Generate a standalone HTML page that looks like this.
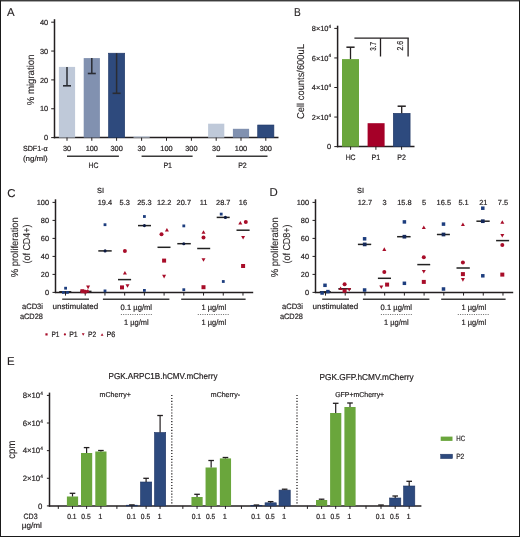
<!DOCTYPE html>
<html><head><meta charset="utf-8"><style>
html,body{margin:0;padding:0;background:#fff;}
#fig{position:absolute;left:0;top:0;width:520px;height:537px;box-sizing:border-box;border:1px solid #1a1a1a;border-top-color:#3c3c3c;background:#fff;box-shadow:inset 0 1px 0 #a8a8a8;overflow:hidden;}
svg{position:absolute;left:-1px;top:-1px;will-change:transform;}
text{font-family:"Liberation Sans", sans-serif;fill:#231f20;text-rendering:geometricPrecision;stroke:#231f20;stroke-width:0.2px;}
text.L{stroke-width:0.12px;}
</style></head><body><div id="fig">
<svg width="520" height="537" viewBox="0 0 520 537" font-family='"Liberation Sans", sans-serif'>
<text x="7.00" y="16.00" font-size="11.4" class="L">A</text>
<line x1="54.50" y1="19.20" x2="54.50" y2="138.30" stroke="#231f20" stroke-width="1.5"/>
<line x1="51.20" y1="137.60" x2="54.50" y2="137.60" stroke="#231f20" stroke-width="1.0"/>
<text x="48.20" y="140.25" font-size="7.4" text-anchor="end">0</text>
<line x1="51.20" y1="108.75" x2="54.50" y2="108.75" stroke="#231f20" stroke-width="1.0"/>
<text x="48.20" y="111.40" font-size="7.4" text-anchor="end">10</text>
<line x1="51.20" y1="79.90" x2="54.50" y2="79.90" stroke="#231f20" stroke-width="1.0"/>
<text x="48.20" y="82.55" font-size="7.4" text-anchor="end">20</text>
<line x1="51.20" y1="51.05" x2="54.50" y2="51.05" stroke="#231f20" stroke-width="1.0"/>
<text x="48.20" y="53.70" font-size="7.4" text-anchor="end">30</text>
<line x1="51.20" y1="22.20" x2="54.50" y2="22.20" stroke="#231f20" stroke-width="1.0"/>
<text x="48.20" y="24.85" font-size="7.4" text-anchor="end">40</text>
<line x1="53.80" y1="137.60" x2="278.50" y2="137.60" stroke="#231f20" stroke-width="1.5"/>
<text x="33.70" y="79.90" font-size="10.0" text-anchor="middle" textLength="50.8" lengthAdjust="spacingAndGlyphs" class="L" transform="rotate(-90 33.70 79.90)">% migration</text>
<rect x="58.90" y="66.90" width="16.20" height="70.70" fill="#bfc9d9"/>
<line x1="67.00" y1="66.90" x2="67.00" y2="85.80" stroke="#2a2c33" stroke-width="1.5"/>
<line x1="63.00" y1="85.80" x2="71.00" y2="85.80" stroke="#2a2c33" stroke-width="1.6"/>
<rect x="83.70" y="58.10" width="16.20" height="79.50" fill="#8191b0"/>
<line x1="91.80" y1="58.10" x2="91.80" y2="73.50" stroke="#2a2c33" stroke-width="1.5"/>
<line x1="87.80" y1="73.50" x2="95.80" y2="73.50" stroke="#2a2c33" stroke-width="1.6"/>
<rect x="108.50" y="53.20" width="16.20" height="84.40" fill="#2e4a7d" stroke="#1f3766" stroke-width="0.6"/>
<line x1="116.60" y1="53.20" x2="116.60" y2="93.30" stroke="#2a2c33" stroke-width="1.5"/>
<line x1="112.60" y1="93.30" x2="120.60" y2="93.30" stroke="#2a2c33" stroke-width="1.6"/>
<rect x="133.50" y="136.30" width="16.20" height="1.30" fill="#c6d0e0"/>
<rect x="208.10" y="123.70" width="16.20" height="13.90" fill="#bfc9d9"/>
<rect x="232.90" y="128.80" width="16.20" height="8.80" fill="#8191b0"/>
<rect x="257.70" y="125.00" width="16.20" height="12.60" fill="#2e4a7d" stroke="#1f3766" stroke-width="0.6"/>
<line x1="67.00" y1="137.60" x2="67.00" y2="140.80" stroke="#231f20" stroke-width="1.0"/>
<text x="67.00" y="150.90" font-size="7.4" text-anchor="middle">30</text>
<line x1="91.80" y1="137.60" x2="91.80" y2="140.80" stroke="#231f20" stroke-width="1.0"/>
<text x="91.80" y="150.90" font-size="7.4" text-anchor="middle">100</text>
<line x1="116.60" y1="137.60" x2="116.60" y2="140.80" stroke="#231f20" stroke-width="1.0"/>
<text x="116.60" y="150.90" font-size="7.4" text-anchor="middle">300</text>
<line x1="141.60" y1="137.60" x2="141.60" y2="140.80" stroke="#231f20" stroke-width="1.0"/>
<text x="141.60" y="150.90" font-size="7.4" text-anchor="middle">30</text>
<line x1="166.50" y1="137.60" x2="166.50" y2="140.80" stroke="#231f20" stroke-width="1.0"/>
<text x="166.50" y="150.90" font-size="7.4" text-anchor="middle">100</text>
<line x1="191.40" y1="137.60" x2="191.40" y2="140.80" stroke="#231f20" stroke-width="1.0"/>
<text x="191.40" y="150.90" font-size="7.4" text-anchor="middle">300</text>
<line x1="216.20" y1="137.60" x2="216.20" y2="140.80" stroke="#231f20" stroke-width="1.0"/>
<text x="216.20" y="150.90" font-size="7.4" text-anchor="middle">30</text>
<line x1="241.00" y1="137.60" x2="241.00" y2="140.80" stroke="#231f20" stroke-width="1.0"/>
<text x="241.00" y="150.90" font-size="7.4" text-anchor="middle">100</text>
<line x1="265.80" y1="137.60" x2="265.80" y2="140.80" stroke="#231f20" stroke-width="1.0"/>
<text x="265.80" y="150.90" font-size="7.4" text-anchor="middle">300</text>
<text x="47.70" y="150.90" font-size="7.4" text-anchor="end" textLength="24.8" lengthAdjust="spacingAndGlyphs">SDF1-α</text>
<text x="47.70" y="160.80" font-size="7.4" text-anchor="end" textLength="24.8" lengthAdjust="spacingAndGlyphs">(ng/ml)</text>
<line x1="67.00" y1="156.30" x2="118.90" y2="156.30" stroke="#3a3a3a" stroke-width="1.4"/>
<text x="93.55" y="167.90" font-size="7.8" text-anchor="middle" textLength="9.9" lengthAdjust="spacingAndGlyphs">HC</text>
<line x1="141.60" y1="156.30" x2="192.60" y2="156.30" stroke="#3a3a3a" stroke-width="1.4"/>
<text x="167.70" y="167.90" font-size="7.8" text-anchor="middle" textLength="8.6" lengthAdjust="spacingAndGlyphs">P1</text>
<line x1="216.20" y1="156.30" x2="267.50" y2="156.30" stroke="#3a3a3a" stroke-width="1.4"/>
<text x="242.45" y="167.90" font-size="7.8" text-anchor="middle" textLength="8.6" lengthAdjust="spacingAndGlyphs">P2</text>
<text x="294.00" y="16.00" font-size="11.4" textLength="6.8" lengthAdjust="spacingAndGlyphs" class="L">B</text>
<line x1="337.60" y1="25.70" x2="337.60" y2="147.30" stroke="#231f20" stroke-width="1.5"/>
<line x1="334.30" y1="146.60" x2="337.60" y2="146.60" stroke="#231f20" stroke-width="1.0"/>
<text x="331.00" y="149.25" font-size="7.4" text-anchor="end">0</text>
<line x1="334.30" y1="117.05" x2="337.60" y2="117.05" stroke="#231f20" stroke-width="1.0"/>
<text x="331.00" y="119.70" font-size="7.4" text-anchor="end">2×10<tspan font-size="4.59" dy="-3.11">4</tspan></text>
<line x1="334.30" y1="87.50" x2="337.60" y2="87.50" stroke="#231f20" stroke-width="1.0"/>
<text x="331.00" y="90.15" font-size="7.4" text-anchor="end">4×10<tspan font-size="4.59" dy="-3.11">4</tspan></text>
<line x1="334.30" y1="57.95" x2="337.60" y2="57.95" stroke="#231f20" stroke-width="1.0"/>
<text x="331.00" y="60.60" font-size="7.4" text-anchor="end">6×10<tspan font-size="4.59" dy="-3.11">4</tspan></text>
<line x1="334.30" y1="28.40" x2="337.60" y2="28.40" stroke="#231f20" stroke-width="1.0"/>
<text x="331.00" y="31.05" font-size="7.4" text-anchor="end">8×10<tspan font-size="4.59" dy="-3.11">4</tspan></text>
<line x1="336.90" y1="146.60" x2="414.50" y2="146.60" stroke="#231f20" stroke-width="1.5"/>
<text x="304.00" y="81.50" font-size="10.0" text-anchor="middle" textLength="74.8" lengthAdjust="spacingAndGlyphs" class="L" transform="rotate(-90 304.00 81.50)">Cell counts/600uL</text>
<rect x="342.00" y="59.10" width="17.00" height="87.50" fill="#6aa63c"/>
<line x1="350.50" y1="59.10" x2="350.50" y2="47.20" stroke="#231f20" stroke-width="1.3"/>
<line x1="346.40" y1="47.20" x2="354.60" y2="47.20" stroke="#231f20" stroke-width="1.5"/>
<rect x="367.60" y="123.20" width="17.00" height="23.40" fill="#a50028"/>
<rect x="393.30" y="113.30" width="16.80" height="33.30" fill="#2d4a7e" stroke="#1f3563" stroke-width="0.6"/>
<line x1="401.70" y1="113.30" x2="401.70" y2="106.20" stroke="#231f20" stroke-width="1.3"/>
<line x1="397.60" y1="106.20" x2="405.80" y2="106.20" stroke="#231f20" stroke-width="1.5"/>
<line x1="350.60" y1="146.60" x2="350.60" y2="149.80" stroke="#231f20" stroke-width="1.0"/>
<text x="350.60" y="160.00" font-size="7.8" text-anchor="middle" textLength="9.9" lengthAdjust="spacingAndGlyphs">HC</text>
<line x1="375.90" y1="146.60" x2="375.90" y2="149.80" stroke="#231f20" stroke-width="1.0"/>
<text x="375.90" y="160.00" font-size="7.8" text-anchor="middle" textLength="8.6" lengthAdjust="spacingAndGlyphs">P1</text>
<line x1="401.60" y1="146.60" x2="401.60" y2="149.80" stroke="#231f20" stroke-width="1.0"/>
<text x="401.60" y="160.00" font-size="7.8" text-anchor="middle" textLength="8.6" lengthAdjust="spacingAndGlyphs">P2</text>
<line x1="354.40" y1="38.20" x2="408.80" y2="38.20" stroke="#231f20" stroke-width="1.3"/>
<line x1="380.50" y1="38.20" x2="380.50" y2="56.50" stroke="#231f20" stroke-width="1.3"/>
<line x1="408.10" y1="38.20" x2="408.10" y2="56.50" stroke="#231f20" stroke-width="1.3"/>
<text x="376.20" y="46.30" font-size="8.6" text-anchor="middle" textLength="8.7" lengthAdjust="spacingAndGlyphs" transform="rotate(-90 376.20 46.30)">3.7</text>
<text x="403.40" y="45.80" font-size="8.6" text-anchor="middle" textLength="9.6" lengthAdjust="spacingAndGlyphs" transform="rotate(-90 403.40 45.80)">2.6</text>
<text x="7.20" y="196.50" font-size="11.4" class="L">C</text>
<line x1="55.50" y1="199.30" x2="55.50" y2="293.10" stroke="#231f20" stroke-width="1.5"/>
<line x1="52.50" y1="292.40" x2="55.50" y2="292.40" stroke="#231f20" stroke-width="1.0"/>
<text x="49.00" y="295.05" font-size="7.4" text-anchor="end">0</text>
<line x1="52.50" y1="274.40" x2="55.50" y2="274.40" stroke="#231f20" stroke-width="1.0"/>
<text x="49.00" y="277.05" font-size="7.4" text-anchor="end">20</text>
<line x1="52.50" y1="256.40" x2="55.50" y2="256.40" stroke="#231f20" stroke-width="1.0"/>
<text x="49.00" y="259.05" font-size="7.4" text-anchor="end">40</text>
<line x1="52.50" y1="238.40" x2="55.50" y2="238.40" stroke="#231f20" stroke-width="1.0"/>
<text x="49.00" y="241.05" font-size="7.4" text-anchor="end">60</text>
<line x1="52.50" y1="220.40" x2="55.50" y2="220.40" stroke="#231f20" stroke-width="1.0"/>
<text x="49.00" y="223.05" font-size="7.4" text-anchor="end">80</text>
<line x1="52.50" y1="202.40" x2="55.50" y2="202.40" stroke="#231f20" stroke-width="1.0"/>
<text x="49.00" y="205.05" font-size="7.4" text-anchor="end">100</text>
<line x1="54.80" y1="292.40" x2="253.20" y2="292.40" stroke="#231f20" stroke-width="1.5"/>
<line x1="65.50" y1="292.40" x2="65.50" y2="295.60" stroke="#231f20" stroke-width="1.0"/>
<line x1="85.22" y1="292.40" x2="85.22" y2="295.60" stroke="#231f20" stroke-width="1.0"/>
<line x1="104.94" y1="292.40" x2="104.94" y2="295.60" stroke="#231f20" stroke-width="1.0"/>
<line x1="124.66" y1="292.40" x2="124.66" y2="295.60" stroke="#231f20" stroke-width="1.0"/>
<line x1="144.38" y1="292.40" x2="144.38" y2="295.60" stroke="#231f20" stroke-width="1.0"/>
<line x1="164.10" y1="292.40" x2="164.10" y2="295.60" stroke="#231f20" stroke-width="1.0"/>
<line x1="183.82" y1="292.40" x2="183.82" y2="295.60" stroke="#231f20" stroke-width="1.0"/>
<line x1="203.54" y1="292.40" x2="203.54" y2="295.60" stroke="#231f20" stroke-width="1.0"/>
<line x1="223.26" y1="292.40" x2="223.26" y2="295.60" stroke="#231f20" stroke-width="1.0"/>
<line x1="242.98" y1="292.40" x2="242.98" y2="295.60" stroke="#231f20" stroke-width="1.0"/>
<text x="18.40" y="247.20" font-size="10.0" text-anchor="middle" textLength="60.0" lengthAdjust="spacingAndGlyphs" class="L" transform="rotate(-90 18.40 247.20)">% proliferation</text>
<text x="30.20" y="244.00" font-size="10.0" text-anchor="middle" textLength="39.1" lengthAdjust="spacingAndGlyphs" class="L" transform="rotate(-90 30.20 244.00)">(of CD4+)</text>
<text x="100.60" y="193.30" font-size="7.4" text-anchor="middle">SI</text>
<text x="104.94" y="204.50" font-size="7.4" text-anchor="middle">19.4</text>
<text x="124.66" y="204.50" font-size="7.4" text-anchor="middle">5.3</text>
<text x="144.38" y="204.50" font-size="7.4" text-anchor="middle">25.3</text>
<text x="164.10" y="204.50" font-size="7.4" text-anchor="middle">12.2</text>
<text x="183.82" y="204.50" font-size="7.4" text-anchor="middle">20.7</text>
<text x="203.54" y="204.50" font-size="7.4" text-anchor="middle">11</text>
<text x="223.26" y="204.50" font-size="7.4" text-anchor="middle">28.7</text>
<text x="242.98" y="204.50" font-size="7.4" text-anchor="middle">16</text>
<text x="43.00" y="309.40" font-size="7.8" text-anchor="end" textLength="21.0" lengthAdjust="spacingAndGlyphs">aCD3i</text>
<text x="43.00" y="318.80" font-size="7.8" text-anchor="end" textLength="23.1" lengthAdjust="spacingAndGlyphs">aCD28</text>
<text x="52.60" y="309.40" font-size="7.8" textLength="45.6" lengthAdjust="spacingAndGlyphs">unstimulated</text>
<text x="136.30" y="309.60" font-size="7.8" text-anchor="middle" textLength="31.5" lengthAdjust="spacingAndGlyphs">0.1 µg/ml</text>
<text x="136.30" y="325.00" font-size="7.8" text-anchor="middle" textLength="24.5" lengthAdjust="spacingAndGlyphs">1 µg/ml</text>
<text x="213.80" y="309.60" font-size="7.8" text-anchor="middle" textLength="24.5" lengthAdjust="spacingAndGlyphs">1 µg/ml</text>
<text x="213.80" y="325.00" font-size="7.8" text-anchor="middle" textLength="24.5" lengthAdjust="spacingAndGlyphs">1 µg/ml</text>
<line x1="120.90" y1="314.50" x2="152.00" y2="314.50" stroke="#6a6a6a" stroke-width="1.0" stroke-dasharray="1 1.3"/>
<line x1="197.80" y1="314.50" x2="229.20" y2="314.50" stroke="#6a6a6a" stroke-width="1.0" stroke-dasharray="1 1.3"/>
<line x1="62.20" y1="299.20" x2="89.00" y2="299.20" stroke="#3a3a3a" stroke-width="1.4"/>
<line x1="102.90" y1="299.20" x2="169.40" y2="299.20" stroke="#3a3a3a" stroke-width="1.4"/>
<line x1="181.20" y1="299.20" x2="245.60" y2="299.20" stroke="#3a3a3a" stroke-width="1.4"/>
<line x1="59.20" y1="291.80" x2="71.30" y2="291.80" stroke="#222" stroke-width="1.5"/>
<line x1="80.20" y1="291.40" x2="91.50" y2="291.40" stroke="#222" stroke-width="1.5"/>
<line x1="98.30" y1="250.90" x2="111.70" y2="250.90" stroke="#222" stroke-width="1.5"/>
<line x1="118.00" y1="279.60" x2="131.10" y2="279.60" stroke="#222" stroke-width="1.5"/>
<line x1="138.00" y1="225.60" x2="151.00" y2="225.60" stroke="#222" stroke-width="1.5"/>
<line x1="157.50" y1="247.30" x2="170.50" y2="247.30" stroke="#222" stroke-width="1.5"/>
<line x1="177.30" y1="243.70" x2="190.80" y2="243.70" stroke="#222" stroke-width="1.5"/>
<line x1="197.20" y1="248.50" x2="210.20" y2="248.50" stroke="#222" stroke-width="1.5"/>
<line x1="216.70" y1="217.40" x2="229.70" y2="217.40" stroke="#222" stroke-width="1.5"/>
<line x1="236.50" y1="230.20" x2="249.60" y2="230.20" stroke="#222" stroke-width="1.5"/>
<rect x="64.20" y="286.80" width="2.80" height="2.80" fill="#1d3d7e"/>
<rect x="62.00" y="291.00" width="2.80" height="2.80" fill="#1d3d7e"/>
<rect x="66.00" y="291.00" width="2.80" height="2.80" fill="#1d3d7e"/>
<polygon points="88.10,289.20 90.10,285.60 86.10,285.60" fill="#a80d29"/>
<rect x="80.40" y="289.20" width="4.00" height="4.00" fill="#a80d29"/>
<circle cx="85.30" cy="291.80" r="2.00" fill="#a80d29"/>
<polygon points="87.80,289.00 89.80,292.60 85.80,292.60" fill="#a80d29"/>
<rect x="103.60" y="223.30" width="2.80" height="2.80" fill="#1d3d7e"/>
<circle cx="105.10" cy="250.90" r="1.55" fill="#0c1a42"/>
<rect x="103.60" y="289.50" width="2.80" height="2.80" fill="#1d3d7e"/>
<circle cx="124.90" cy="250.90" r="2.00" fill="#a80d29"/>
<polygon points="124.90,271.00 126.90,274.60 122.90,274.60" fill="#a80d29"/>
<rect x="120.00" y="285.40" width="4.00" height="4.00" fill="#a80d29"/>
<polygon points="127.50,287.80 129.50,284.20 125.50,284.20" fill="#a80d29"/>
<rect x="143.00" y="215.10" width="2.80" height="2.80" fill="#1d3d7e"/>
<circle cx="144.40" cy="225.60" r="1.55" fill="#0c1a42"/>
<rect x="143.00" y="289.00" width="2.80" height="2.80" fill="#1d3d7e"/>
<polygon points="166.90,228.00 168.90,231.60 164.90,231.60" fill="#a80d29"/>
<circle cx="161.50" cy="234.20" r="2.00" fill="#a80d29"/>
<rect x="162.10" y="258.60" width="4.00" height="4.00" fill="#a80d29"/>
<polygon points="164.10,278.40 166.10,274.80 162.10,274.80" fill="#a80d29"/>
<rect x="182.40" y="224.50" width="2.80" height="2.80" fill="#1d3d7e"/>
<circle cx="183.80" cy="243.70" r="1.55" fill="#0c1a42"/>
<rect x="182.40" y="288.30" width="2.80" height="2.80" fill="#1d3d7e"/>
<polygon points="203.50,230.20 205.50,233.80 201.50,233.80" fill="#a80d29"/>
<circle cx="203.50" cy="237.50" r="2.00" fill="#a80d29"/>
<polygon points="203.50,261.80 205.50,258.20 201.50,258.20" fill="#a80d29"/>
<rect x="201.50" y="285.20" width="4.00" height="4.00" fill="#a80d29"/>
<rect x="219.80" y="212.70" width="2.80" height="2.80" fill="#1d3d7e"/>
<circle cx="225.40" cy="217.40" r="1.55" fill="#0c1a42"/>
<rect x="221.90" y="280.10" width="2.80" height="2.80" fill="#1d3d7e"/>
<polygon points="240.30,221.00 242.30,224.60 238.30,224.60" fill="#a80d29"/>
<circle cx="245.80" cy="222.00" r="2.00" fill="#a80d29"/>
<polygon points="243.10,239.50 245.10,235.90 241.10,235.90" fill="#a80d29"/>
<rect x="241.10" y="264.00" width="4.00" height="4.00" fill="#a80d29"/>
<rect x="45.40" y="333.30" width="2.20" height="2.20" fill="#a80d29"/>
<text x="51.50" y="337.10" font-size="7.8" textLength="8.0" lengthAdjust="spacingAndGlyphs">P1</text>
<circle cx="64.90" cy="334.40" r="1.10" fill="#a80d29"/>
<text x="69.20" y="337.10" font-size="7.8" textLength="8.5" lengthAdjust="spacingAndGlyphs">P1</text>
<polygon points="83.20,335.66 84.60,333.14 81.80,333.14" fill="#a80d29"/>
<text x="88.00" y="337.10" font-size="7.8" textLength="8.2" lengthAdjust="spacingAndGlyphs">P2</text>
<polygon points="102.10,333.14 103.50,335.66 100.70,335.66" fill="#a80d29"/>
<text x="106.50" y="337.10" font-size="7.8" textLength="8.9" lengthAdjust="spacingAndGlyphs">P6</text>
<text x="269.40" y="196.00" font-size="11.4" class="L">D</text>
<line x1="315.50" y1="199.30" x2="315.50" y2="293.10" stroke="#231f20" stroke-width="1.5"/>
<line x1="312.50" y1="292.40" x2="315.50" y2="292.40" stroke="#231f20" stroke-width="1.0"/>
<text x="309.00" y="295.05" font-size="7.4" text-anchor="end">0</text>
<line x1="312.50" y1="274.40" x2="315.50" y2="274.40" stroke="#231f20" stroke-width="1.0"/>
<text x="309.00" y="277.05" font-size="7.4" text-anchor="end">20</text>
<line x1="312.50" y1="256.40" x2="315.50" y2="256.40" stroke="#231f20" stroke-width="1.0"/>
<text x="309.00" y="259.05" font-size="7.4" text-anchor="end">40</text>
<line x1="312.50" y1="238.40" x2="315.50" y2="238.40" stroke="#231f20" stroke-width="1.0"/>
<text x="309.00" y="241.05" font-size="7.4" text-anchor="end">60</text>
<line x1="312.50" y1="220.40" x2="315.50" y2="220.40" stroke="#231f20" stroke-width="1.0"/>
<text x="309.00" y="223.05" font-size="7.4" text-anchor="end">80</text>
<line x1="312.50" y1="202.40" x2="315.50" y2="202.40" stroke="#231f20" stroke-width="1.0"/>
<text x="309.00" y="205.05" font-size="7.4" text-anchor="end">100</text>
<line x1="314.80" y1="292.40" x2="513.20" y2="292.40" stroke="#231f20" stroke-width="1.5"/>
<line x1="325.50" y1="292.40" x2="325.50" y2="295.60" stroke="#231f20" stroke-width="1.0"/>
<line x1="345.22" y1="292.40" x2="345.22" y2="295.60" stroke="#231f20" stroke-width="1.0"/>
<line x1="364.94" y1="292.40" x2="364.94" y2="295.60" stroke="#231f20" stroke-width="1.0"/>
<line x1="384.66" y1="292.40" x2="384.66" y2="295.60" stroke="#231f20" stroke-width="1.0"/>
<line x1="404.38" y1="292.40" x2="404.38" y2="295.60" stroke="#231f20" stroke-width="1.0"/>
<line x1="424.10" y1="292.40" x2="424.10" y2="295.60" stroke="#231f20" stroke-width="1.0"/>
<line x1="443.82" y1="292.40" x2="443.82" y2="295.60" stroke="#231f20" stroke-width="1.0"/>
<line x1="463.54" y1="292.40" x2="463.54" y2="295.60" stroke="#231f20" stroke-width="1.0"/>
<line x1="483.26" y1="292.40" x2="483.26" y2="295.60" stroke="#231f20" stroke-width="1.0"/>
<line x1="502.98" y1="292.40" x2="502.98" y2="295.60" stroke="#231f20" stroke-width="1.0"/>
<text x="278.40" y="247.20" font-size="10.0" text-anchor="middle" textLength="60.0" lengthAdjust="spacingAndGlyphs" class="L" transform="rotate(-90 278.40 247.20)">% proliferation</text>
<text x="290.20" y="244.00" font-size="10.0" text-anchor="middle" textLength="39.1" lengthAdjust="spacingAndGlyphs" class="L" transform="rotate(-90 290.20 244.00)">(of CD8+)</text>
<text x="360.60" y="193.30" font-size="7.4" text-anchor="middle">SI</text>
<text x="364.94" y="204.50" font-size="7.4" text-anchor="middle">12.7</text>
<text x="384.66" y="204.50" font-size="7.4" text-anchor="middle">3</text>
<text x="404.38" y="204.50" font-size="7.4" text-anchor="middle">15.8</text>
<text x="424.10" y="204.50" font-size="7.4" text-anchor="middle">5</text>
<text x="443.82" y="204.50" font-size="7.4" text-anchor="middle">16.5</text>
<text x="463.54" y="204.50" font-size="7.4" text-anchor="middle">5.1</text>
<text x="483.26" y="204.50" font-size="7.4" text-anchor="middle">21</text>
<text x="502.98" y="204.50" font-size="7.4" text-anchor="middle">7.5</text>
<text x="303.00" y="309.40" font-size="7.8" text-anchor="end" textLength="21.0" lengthAdjust="spacingAndGlyphs">aCD3i</text>
<text x="303.00" y="318.80" font-size="7.8" text-anchor="end" textLength="23.1" lengthAdjust="spacingAndGlyphs">aCD28</text>
<text x="312.60" y="309.40" font-size="7.8" textLength="45.6" lengthAdjust="spacingAndGlyphs">unstimulated</text>
<text x="396.30" y="309.60" font-size="7.8" text-anchor="middle" textLength="31.5" lengthAdjust="spacingAndGlyphs">0.1 µg/ml</text>
<text x="396.30" y="325.00" font-size="7.8" text-anchor="middle" textLength="24.5" lengthAdjust="spacingAndGlyphs">1 µg/ml</text>
<text x="473.80" y="309.60" font-size="7.8" text-anchor="middle" textLength="24.5" lengthAdjust="spacingAndGlyphs">1 µg/ml</text>
<text x="473.80" y="325.00" font-size="7.8" text-anchor="middle" textLength="24.5" lengthAdjust="spacingAndGlyphs">1 µg/ml</text>
<line x1="380.90" y1="314.50" x2="412.00" y2="314.50" stroke="#6a6a6a" stroke-width="1.0" stroke-dasharray="1 1.3"/>
<line x1="457.80" y1="314.50" x2="489.20" y2="314.50" stroke="#6a6a6a" stroke-width="1.0" stroke-dasharray="1 1.3"/>
<line x1="322.20" y1="299.20" x2="349.00" y2="299.20" stroke="#3a3a3a" stroke-width="1.4"/>
<line x1="362.90" y1="299.20" x2="429.40" y2="299.20" stroke="#3a3a3a" stroke-width="1.4"/>
<line x1="441.20" y1="299.20" x2="505.60" y2="299.20" stroke="#3a3a3a" stroke-width="1.4"/>
<line x1="319.80" y1="291.80" x2="330.80" y2="291.80" stroke="#222" stroke-width="1.5"/>
<line x1="338.30" y1="288.80" x2="351.00" y2="288.80" stroke="#222" stroke-width="1.5"/>
<line x1="357.90" y1="244.40" x2="371.20" y2="244.40" stroke="#222" stroke-width="1.5"/>
<line x1="377.90" y1="278.30" x2="391.00" y2="278.30" stroke="#222" stroke-width="1.5"/>
<line x1="397.10" y1="236.70" x2="410.60" y2="236.70" stroke="#222" stroke-width="1.5"/>
<line x1="417.30" y1="264.60" x2="430.20" y2="264.60" stroke="#222" stroke-width="1.5"/>
<line x1="436.90" y1="234.50" x2="449.90" y2="234.50" stroke="#222" stroke-width="1.5"/>
<line x1="456.50" y1="268.00" x2="469.80" y2="268.00" stroke="#222" stroke-width="1.5"/>
<line x1="476.40" y1="221.20" x2="489.70" y2="221.20" stroke="#222" stroke-width="1.5"/>
<line x1="496.10" y1="240.60" x2="509.10" y2="240.60" stroke="#222" stroke-width="1.5"/>
<rect x="323.25" y="283.55" width="3.50" height="3.50" fill="#1d3d7e"/>
<rect x="320.35" y="291.25" width="3.50" height="3.50" fill="#1d3d7e"/>
<rect x="326.15" y="289.85" width="3.50" height="3.50" fill="#1d3d7e"/>
<circle cx="344.60" cy="284.20" r="2.00" fill="#a80d29"/>
<polygon points="340.60,286.50 342.60,290.10 338.60,290.10" fill="#a80d29"/>
<rect x="342.60" y="288.80" width="4.00" height="4.00" fill="#a80d29"/>
<polygon points="349.20,291.60 351.20,288.00 347.20,288.00" fill="#a80d29"/>
<rect x="362.85" y="237.05" width="3.50" height="3.50" fill="#1d3d7e"/>
<rect x="362.85" y="242.55" width="3.70" height="3.70" fill="#15295a"/>
<rect x="362.85" y="288.25" width="3.50" height="3.50" fill="#1d3d7e"/>
<polygon points="384.30,247.30 386.30,250.90 382.30,250.90" fill="#a80d29"/>
<circle cx="384.30" cy="271.90" r="2.00" fill="#a80d29"/>
<polygon points="381.30,289.10 383.30,285.50 379.30,285.50" fill="#a80d29"/>
<rect x="385.10" y="282.60" width="4.00" height="4.00" fill="#a80d29"/>
<rect x="402.65" y="220.15" width="3.50" height="3.50" fill="#1d3d7e"/>
<rect x="402.55" y="234.85" width="3.70" height="3.70" fill="#15295a"/>
<rect x="402.65" y="281.55" width="3.50" height="3.50" fill="#1d3d7e"/>
<polygon points="423.80,225.40 425.80,229.00 421.80,229.00" fill="#a80d29"/>
<circle cx="423.80" cy="257.30" r="2.00" fill="#a80d29"/>
<polygon points="423.80,273.60 425.80,270.00 421.80,270.00" fill="#a80d29"/>
<rect x="421.80" y="279.90" width="4.00" height="4.00" fill="#a80d29"/>
<rect x="441.75" y="222.35" width="3.50" height="3.50" fill="#1d3d7e"/>
<rect x="441.65" y="232.65" width="3.70" height="3.70" fill="#15295a"/>
<rect x="441.75" y="287.25" width="3.50" height="3.50" fill="#1d3d7e"/>
<polygon points="462.90,222.40 464.90,226.00 460.90,226.00" fill="#a80d29"/>
<circle cx="462.90" cy="262.50" r="2.00" fill="#a80d29"/>
<rect x="460.90" y="272.10" width="4.00" height="4.00" fill="#a80d29"/>
<polygon points="462.90,281.70 464.90,278.10 460.90,278.10" fill="#a80d29"/>
<rect x="481.05" y="206.45" width="3.50" height="3.50" fill="#1d3d7e"/>
<rect x="480.95" y="219.35" width="3.70" height="3.70" fill="#15295a"/>
<rect x="481.05" y="274.05" width="3.50" height="3.50" fill="#1d3d7e"/>
<polygon points="502.30,220.20 504.30,223.80 500.30,223.80" fill="#a80d29"/>
<polygon points="502.30,237.60 504.30,234.00 500.30,234.00" fill="#a80d29"/>
<circle cx="502.30" cy="244.90" r="2.00" fill="#a80d29"/>
<rect x="500.30" y="272.60" width="4.00" height="4.00" fill="#a80d29"/>
<text x="6.90" y="364.90" font-size="11.4" class="L">E</text>
<line x1="49.50" y1="392.60" x2="49.50" y2="506.60" stroke="#231f20" stroke-width="1.5"/>
<line x1="46.90" y1="505.90" x2="49.50" y2="505.90" stroke="#231f20" stroke-width="1.0"/>
<text x="42.40" y="508.70" font-size="7.8" text-anchor="end">0</text>
<line x1="46.90" y1="478.27" x2="49.50" y2="478.27" stroke="#231f20" stroke-width="1.0"/>
<text x="42.90" y="481.07" font-size="7.8" text-anchor="end">2×10<tspan font-size="4.84" dy="-3.28">4</tspan></text>
<line x1="46.90" y1="450.65" x2="49.50" y2="450.65" stroke="#231f20" stroke-width="1.0"/>
<text x="42.90" y="453.45" font-size="7.8" text-anchor="end">4×10<tspan font-size="4.84" dy="-3.28">4</tspan></text>
<line x1="46.90" y1="423.02" x2="49.50" y2="423.02" stroke="#231f20" stroke-width="1.0"/>
<text x="42.90" y="425.82" font-size="7.8" text-anchor="end">6×10<tspan font-size="4.84" dy="-3.28">4</tspan></text>
<line x1="46.90" y1="395.40" x2="49.50" y2="395.40" stroke="#231f20" stroke-width="1.0"/>
<text x="42.90" y="398.20" font-size="7.8" text-anchor="end">8×10<tspan font-size="4.84" dy="-3.28">4</tspan></text>
<line x1="48.80" y1="505.90" x2="421.40" y2="505.90" stroke="#231f20" stroke-width="1.5"/>
<text x="15.10" y="449.65" font-size="10.4" text-anchor="middle" textLength="18.1" lengthAdjust="spacingAndGlyphs" class="L" transform="rotate(-90 15.10 449.65)">cpm</text>
<line x1="58.30" y1="505.90" x2="58.30" y2="508.90" stroke="#231f20" stroke-width="1.0"/>
<line x1="72.50" y1="505.90" x2="72.50" y2="508.90" stroke="#231f20" stroke-width="1.0"/>
<line x1="86.60" y1="505.90" x2="86.60" y2="508.90" stroke="#231f20" stroke-width="1.0"/>
<line x1="100.90" y1="505.90" x2="100.90" y2="508.90" stroke="#231f20" stroke-width="1.0"/>
<line x1="116.90" y1="505.90" x2="116.90" y2="508.90" stroke="#231f20" stroke-width="1.0"/>
<line x1="131.90" y1="505.90" x2="131.90" y2="508.90" stroke="#231f20" stroke-width="1.0"/>
<line x1="146.10" y1="505.90" x2="146.10" y2="508.90" stroke="#231f20" stroke-width="1.0"/>
<line x1="160.10" y1="505.90" x2="160.10" y2="508.90" stroke="#231f20" stroke-width="1.0"/>
<rect x="66.90" y="496.50" width="11.20" height="9.40" fill="#6aa63c"/>
<line x1="72.50" y1="496.50" x2="72.50" y2="493.30" stroke="#231f20" stroke-width="1.2"/>
<line x1="69.70" y1="493.30" x2="75.30" y2="493.30" stroke="#231f20" stroke-width="1.3"/>
<text x="71.90" y="518.80" font-size="7.4" text-anchor="middle" textLength="9.3" lengthAdjust="spacingAndGlyphs">0.1</text>
<rect x="81.00" y="453.00" width="11.20" height="52.90" fill="#6aa63c"/>
<line x1="86.60" y1="453.00" x2="86.60" y2="447.60" stroke="#231f20" stroke-width="1.2"/>
<line x1="83.80" y1="447.60" x2="89.40" y2="447.60" stroke="#231f20" stroke-width="1.3"/>
<text x="86.00" y="518.80" font-size="7.4" text-anchor="middle" textLength="9.3" lengthAdjust="spacingAndGlyphs">0.5</text>
<rect x="95.30" y="451.50" width="11.20" height="54.40" fill="#6aa63c"/>
<line x1="100.90" y1="451.50" x2="100.90" y2="450.50" stroke="#231f20" stroke-width="1.2"/>
<line x1="98.10" y1="450.50" x2="103.70" y2="450.50" stroke="#231f20" stroke-width="1.3"/>
<text x="100.30" y="518.80" font-size="7.4" text-anchor="middle">1</text>
<rect x="126.30" y="505.20" width="11.20" height="0.70" fill="#2d4a7e" stroke="#1f3563" stroke-width="0.6"/>
<line x1="131.90" y1="505.20" x2="131.90" y2="504.90" stroke="#231f20" stroke-width="1.2"/>
<line x1="129.10" y1="504.90" x2="134.70" y2="504.90" stroke="#231f20" stroke-width="1.3"/>
<text x="131.30" y="518.80" font-size="7.4" text-anchor="middle" textLength="9.3" lengthAdjust="spacingAndGlyphs">0.1</text>
<rect x="140.50" y="482.00" width="11.20" height="23.90" fill="#2d4a7e" stroke="#1f3563" stroke-width="0.6"/>
<line x1="146.10" y1="482.00" x2="146.10" y2="478.30" stroke="#231f20" stroke-width="1.2"/>
<line x1="143.30" y1="478.30" x2="148.90" y2="478.30" stroke="#231f20" stroke-width="1.3"/>
<text x="145.50" y="518.80" font-size="7.4" text-anchor="middle" textLength="9.3" lengthAdjust="spacingAndGlyphs">0.5</text>
<rect x="154.50" y="432.50" width="11.20" height="73.40" fill="#2d4a7e" stroke="#1f3563" stroke-width="0.6"/>
<line x1="160.10" y1="432.50" x2="160.10" y2="415.50" stroke="#231f20" stroke-width="1.2"/>
<line x1="157.30" y1="415.50" x2="162.90" y2="415.50" stroke="#231f20" stroke-width="1.3"/>
<text x="159.50" y="518.80" font-size="7.4" text-anchor="middle">1</text>
<line x1="182.85" y1="505.90" x2="182.85" y2="508.90" stroke="#231f20" stroke-width="1.0"/>
<line x1="197.05" y1="505.90" x2="197.05" y2="508.90" stroke="#231f20" stroke-width="1.0"/>
<line x1="211.15" y1="505.90" x2="211.15" y2="508.90" stroke="#231f20" stroke-width="1.0"/>
<line x1="225.45" y1="505.90" x2="225.45" y2="508.90" stroke="#231f20" stroke-width="1.0"/>
<line x1="241.45" y1="505.90" x2="241.45" y2="508.90" stroke="#231f20" stroke-width="1.0"/>
<line x1="256.45" y1="505.90" x2="256.45" y2="508.90" stroke="#231f20" stroke-width="1.0"/>
<line x1="270.65" y1="505.90" x2="270.65" y2="508.90" stroke="#231f20" stroke-width="1.0"/>
<line x1="284.65" y1="505.90" x2="284.65" y2="508.90" stroke="#231f20" stroke-width="1.0"/>
<rect x="191.45" y="497.00" width="11.20" height="8.90" fill="#6aa63c"/>
<line x1="197.05" y1="497.00" x2="197.05" y2="494.30" stroke="#231f20" stroke-width="1.2"/>
<line x1="194.25" y1="494.30" x2="199.85" y2="494.30" stroke="#231f20" stroke-width="1.3"/>
<text x="196.45" y="518.80" font-size="7.4" text-anchor="middle" textLength="9.3" lengthAdjust="spacingAndGlyphs">0.1</text>
<rect x="205.55" y="467.50" width="11.20" height="38.40" fill="#6aa63c"/>
<line x1="211.15" y1="467.50" x2="211.15" y2="460.50" stroke="#231f20" stroke-width="1.2"/>
<line x1="208.35" y1="460.50" x2="213.95" y2="460.50" stroke="#231f20" stroke-width="1.3"/>
<text x="210.55" y="518.80" font-size="7.4" text-anchor="middle" textLength="9.3" lengthAdjust="spacingAndGlyphs">0.5</text>
<rect x="219.85" y="458.40" width="11.20" height="47.50" fill="#6aa63c"/>
<line x1="225.45" y1="458.40" x2="225.45" y2="457.50" stroke="#231f20" stroke-width="1.2"/>
<line x1="222.65" y1="457.50" x2="228.25" y2="457.50" stroke="#231f20" stroke-width="1.3"/>
<text x="224.85" y="518.80" font-size="7.4" text-anchor="middle">1</text>
<rect x="250.85" y="505.30" width="11.20" height="0.60" fill="#2d4a7e" stroke="#1f3563" stroke-width="0.6"/>
<line x1="256.45" y1="505.30" x2="256.45" y2="505.00" stroke="#231f20" stroke-width="1.2"/>
<line x1="253.65" y1="505.00" x2="259.25" y2="505.00" stroke="#231f20" stroke-width="1.3"/>
<text x="255.85" y="518.80" font-size="7.4" text-anchor="middle" textLength="9.3" lengthAdjust="spacingAndGlyphs">0.1</text>
<rect x="265.05" y="502.80" width="11.20" height="3.10" fill="#2d4a7e" stroke="#1f3563" stroke-width="0.6"/>
<line x1="270.65" y1="502.80" x2="270.65" y2="501.60" stroke="#231f20" stroke-width="1.2"/>
<line x1="267.85" y1="501.60" x2="273.45" y2="501.60" stroke="#231f20" stroke-width="1.3"/>
<text x="270.05" y="518.80" font-size="7.4" text-anchor="middle" textLength="9.3" lengthAdjust="spacingAndGlyphs">0.5</text>
<rect x="279.05" y="490.10" width="11.20" height="15.80" fill="#2d4a7e" stroke="#1f3563" stroke-width="0.6"/>
<line x1="284.65" y1="490.10" x2="284.65" y2="489.20" stroke="#231f20" stroke-width="1.2"/>
<line x1="281.85" y1="489.20" x2="287.45" y2="489.20" stroke="#231f20" stroke-width="1.3"/>
<text x="284.05" y="518.80" font-size="7.4" text-anchor="middle">1</text>
<line x1="307.40" y1="505.90" x2="307.40" y2="508.90" stroke="#231f20" stroke-width="1.0"/>
<line x1="321.60" y1="505.90" x2="321.60" y2="508.90" stroke="#231f20" stroke-width="1.0"/>
<line x1="335.70" y1="505.90" x2="335.70" y2="508.90" stroke="#231f20" stroke-width="1.0"/>
<line x1="350.00" y1="505.90" x2="350.00" y2="508.90" stroke="#231f20" stroke-width="1.0"/>
<line x1="366.00" y1="505.90" x2="366.00" y2="508.90" stroke="#231f20" stroke-width="1.0"/>
<line x1="381.00" y1="505.90" x2="381.00" y2="508.90" stroke="#231f20" stroke-width="1.0"/>
<line x1="395.20" y1="505.90" x2="395.20" y2="508.90" stroke="#231f20" stroke-width="1.0"/>
<line x1="409.20" y1="505.90" x2="409.20" y2="508.90" stroke="#231f20" stroke-width="1.0"/>
<rect x="316.00" y="500.00" width="11.20" height="5.90" fill="#6aa63c"/>
<line x1="321.60" y1="500.00" x2="321.60" y2="499.20" stroke="#231f20" stroke-width="1.2"/>
<line x1="318.80" y1="499.20" x2="324.40" y2="499.20" stroke="#231f20" stroke-width="1.3"/>
<text x="321.00" y="518.80" font-size="7.4" text-anchor="middle" textLength="9.3" lengthAdjust="spacingAndGlyphs">0.1</text>
<rect x="330.10" y="413.00" width="11.20" height="92.90" fill="#6aa63c"/>
<line x1="335.70" y1="413.00" x2="335.70" y2="403.30" stroke="#231f20" stroke-width="1.2"/>
<line x1="332.90" y1="403.30" x2="338.50" y2="403.30" stroke="#231f20" stroke-width="1.3"/>
<text x="335.10" y="518.80" font-size="7.4" text-anchor="middle" textLength="9.3" lengthAdjust="spacingAndGlyphs">0.5</text>
<rect x="344.40" y="407.00" width="11.20" height="98.90" fill="#6aa63c"/>
<line x1="350.00" y1="407.00" x2="350.00" y2="403.00" stroke="#231f20" stroke-width="1.2"/>
<line x1="347.20" y1="403.00" x2="352.80" y2="403.00" stroke="#231f20" stroke-width="1.3"/>
<text x="349.40" y="518.80" font-size="7.4" text-anchor="middle">1</text>
<line x1="381.00" y1="505.50" x2="381.00" y2="505.00" stroke="#231f20" stroke-width="1.2"/>
<line x1="378.20" y1="505.00" x2="383.80" y2="505.00" stroke="#231f20" stroke-width="1.3"/>
<text x="380.40" y="518.80" font-size="7.4" text-anchor="middle" textLength="9.3" lengthAdjust="spacingAndGlyphs">0.1</text>
<rect x="389.60" y="498.00" width="11.20" height="7.90" fill="#2d4a7e" stroke="#1f3563" stroke-width="0.6"/>
<line x1="395.20" y1="498.00" x2="395.20" y2="496.00" stroke="#231f20" stroke-width="1.2"/>
<line x1="392.40" y1="496.00" x2="398.00" y2="496.00" stroke="#231f20" stroke-width="1.3"/>
<text x="394.60" y="518.80" font-size="7.4" text-anchor="middle" textLength="9.3" lengthAdjust="spacingAndGlyphs">0.5</text>
<rect x="403.60" y="486.00" width="11.20" height="19.90" fill="#2d4a7e" stroke="#1f3563" stroke-width="0.6"/>
<line x1="409.20" y1="486.00" x2="409.20" y2="481.30" stroke="#231f20" stroke-width="1.2"/>
<line x1="406.40" y1="481.30" x2="412.00" y2="481.30" stroke="#231f20" stroke-width="1.3"/>
<text x="408.60" y="518.80" font-size="7.4" text-anchor="middle">1</text>
<line x1="171.80" y1="395.00" x2="171.80" y2="505.00" stroke="#231f20" stroke-width="1.3" stroke-dasharray="1.1 1.8"/>
<line x1="297.00" y1="395.00" x2="297.00" y2="505.00" stroke="#231f20" stroke-width="1.3" stroke-dasharray="1.1 1.8"/>
<text x="108.50" y="379.00" font-size="8.6" textLength="109.0" lengthAdjust="spacingAndGlyphs">PGK.ARPC1B.hCMV.mCherry</text>
<text x="319.50" y="379.50" font-size="8.6" textLength="94.2" lengthAdjust="spacingAndGlyphs">PGK.GFP.hCMV.mCherry</text>
<text x="115.20" y="396.50" font-size="7.2" text-anchor="middle" textLength="31.2" lengthAdjust="spacingAndGlyphs">mCherry+</text>
<text x="225.40" y="396.50" font-size="7.2" text-anchor="middle" textLength="29.2" lengthAdjust="spacingAndGlyphs">mCherry-</text>
<text x="359.70" y="396.60" font-size="7.2" text-anchor="middle" textLength="49.0" lengthAdjust="spacingAndGlyphs">GFP+mCherry+</text>
<text x="23.50" y="518.50" font-size="7.8" textLength="14.1" lengthAdjust="spacingAndGlyphs">CD3</text>
<text x="21.80" y="528.00" font-size="7.8" textLength="20.1" lengthAdjust="spacingAndGlyphs">µg/ml</text>
<rect x="440.70" y="436.60" width="11.80" height="4.30" fill="#6aa63c"/>
<rect x="440.70" y="454.20" width="11.80" height="4.40" fill="#2d4a7e" stroke="#1f3563" stroke-width="0.5"/>
<text x="456.20" y="440.90" font-size="7.6" textLength="8.9" lengthAdjust="spacingAndGlyphs">HC</text>
<text x="456.20" y="458.60" font-size="7.6" textLength="8.1" lengthAdjust="spacingAndGlyphs">P2</text>
</svg></div></body></html>
